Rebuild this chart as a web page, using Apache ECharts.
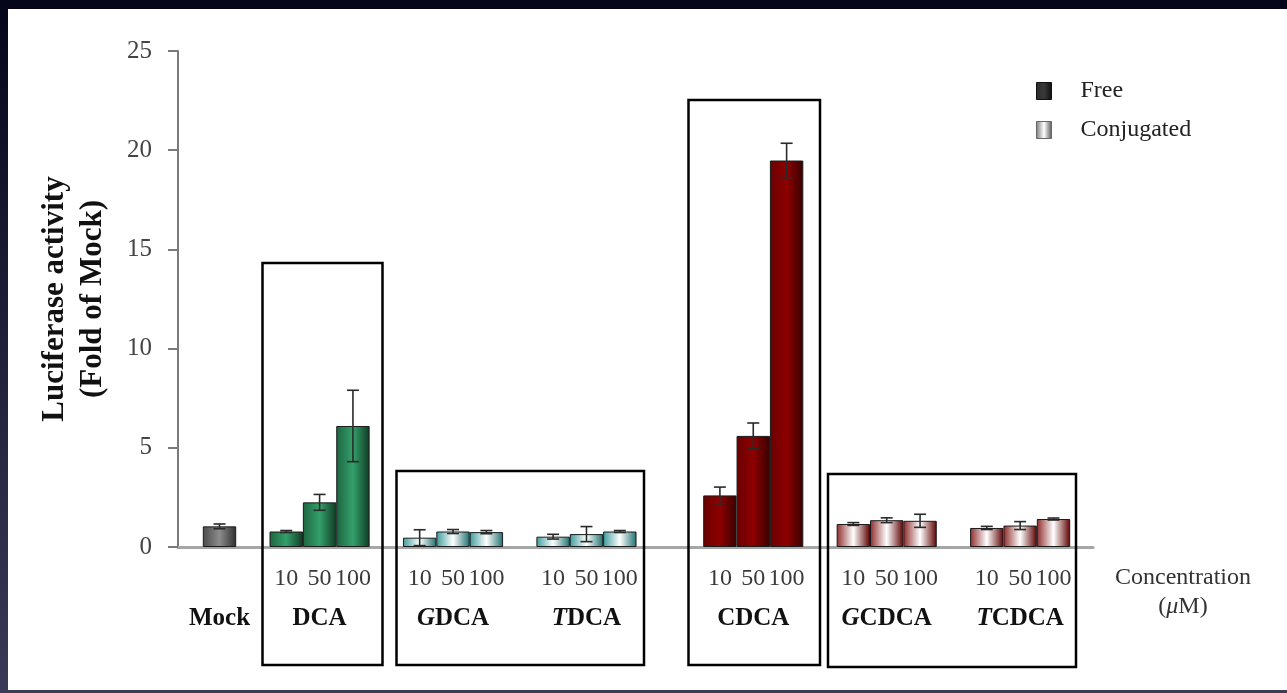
<!DOCTYPE html>
<html>
<head>
<meta charset="utf-8">
<script src="https://cdn.jsdelivr.net/npm/echarts@6/dist/echarts.min.js"></script>
<style>
html,body{margin:0;padding:0;background:#fff;}
#chart{width:1287px;height:693px;}
</style>
</head>
<body>
<div id="chart"></div>
<script>
// ---------- DATA ----------
// slot layout of the category band (blank = gap between groups)
const slots = ['Mock', '', 'DCA|10', 'DCA|50', 'DCA|100', '', 'GDCA|10', 'GDCA|50', 'GDCA|100', '',
  'TDCA|10', 'TDCA|50', 'TDCA|100', '', '', 'CDCA|10', 'CDCA|50', 'CDCA|100', '',
  'GCDCA|10', 'GCDCA|50', 'GCDCA|100', '', 'TCDCA|10', 'TCDCA|50', 'TCDCA|100'];
const groups = ['Mock', 'DCA', 'GDCA', 'TDCA', 'CDCA', 'GCDCA', 'TCDCA'];
const groupPrefix = ['', '', 'G', 'T', '', 'G', 'T'];
const groupBase = ['Mock', 'DCA', 'DCA', 'DCA', 'CDCA', 'CDCA', 'CDCA'];
const groupType = ['Free', 'Free', 'Conjugated', 'Conjugated', 'Free', 'Conjugated', 'Conjugated'];
const concentrations = ['10', '50', '100'];
const yTicks = [0, 5, 10, 15, 20, 25];

const mockValue = [1.04];
const mockError = [0.12];
const dcaValues = [0.78, 2.25, 6.1];
const dcaErrors = [0.05, 0.4, 1.8];
const gdcaValues = [0.47, 0.78, 0.75];
const gdcaErrors = [0.4, 0.1, 0.08];
const tdcaValues = [0.52, 0.65, 0.78];
const tdcaErrors = [0.12, 0.38, 0.05];
const cdcaValues = [2.6, 5.6, 19.48];
const cdcaErrors = [0.42, 0.65, 0.87];
const gcdcaValues = [1.16, 1.35, 1.32];
const gcdcaErrors = [0.07, 0.12, 0.33];
const tcdcaValues = [0.96, 1.08, 1.41];
const tcdcaErrors = [0.08, 0.2, 0.05];

const valuesByGroup = [mockValue, dcaValues, gdcaValues, tdcaValues, cdcaValues, gcdcaValues, tcdcaValues];
const errorsByGroup = [mockError, dcaErrors, gdcaErrors, tdcaErrors, cdcaErrors, gcdcaErrors, tcdcaErrors];

// ---------- STYLES ----------
function hGrad(a, b, c) {
  return {type: 'linear', x: 0, y: 0, x2: 1, y2: 0,
    colorStops: [{offset: 0, color: a}, {offset: 0.5, color: b}, {offset: 1, color: c}]};
}
const groupFill = [
  hGrad('#4a4a4a', '#8c8c8c', '#2e2e2e'),
  hGrad('#1d6440', '#33a06a', '#103a25'),
  hGrad('#3c9c9c', '#ffffff', '#1f7070'),
  hGrad('#3c9c9c', '#ffffff', '#1f7070'),
  hGrad('#6a0000', '#8e0000', '#380000'),
  hGrad('#8e2a2a', '#ffffff', '#5e0000'),
  hGrad('#8e2a2a', '#ffffff', '#5e0000')
];
const SERIF = "'Liberation Serif','DejaVu Serif',serif";

// ---------- BUILD ----------
const freeData = [], conjData = [], errData = [];
groups.forEach((g, gi) => {
  const vals = valuesByGroup[gi];
  vals.forEach((v, ci) => {
    const key = g === 'Mock' ? 'Mock' : g + '|' + concentrations[ci];
    const slot = slots.indexOf(key);
    const isMid = g === 'Mock' || ci === 1;
    const conc = g === 'Mock' ? ' ' : concentrations[ci];
    let second = '';
    if (isMid) {
      second = (groupPrefix[gi] ? '{gi|' + groupPrefix[gi] + '}' : '') + '{g|' + groupBase[gi] + '}';
    }
    const item = {
      value: [slot, v],
      itemStyle: {color: groupFill[gi]},
      label: {formatter: '{n|' + conc + '}' + (second ? '\n' + second : '')}
    };
    (groupType[gi] === 'Free' ? freeData : conjData).push(item);
    const e = errorsByGroup[gi][ci];
    errData.push([slot, v - e, v + e]);
  });
});

const barLabel = {
  show: true, position: 'bottom', distance: 12,
  rich: {
    n: {fontFamily: SERIF, fontSize: 24, color: '#3a3a3a', lineHeight: 40},
    g: {fontFamily: SERIF, fontSize: 25, fontWeight: 'bold', color: '#111', lineHeight: 40},
    gi: {fontFamily: SERIF, fontSize: 25, fontWeight: 'bold', fontStyle: 'italic', color: '#111', lineHeight: 40}
  }
};

const chart = echarts.init(document.getElementById('chart'), null, {renderer: 'canvas'});
const option = {
  backgroundColor: '#ffffff',
  animation: false,
  grid: {left: 178, right: 194, top: 51, bottom: 146, containLabel: false},
  legend: {
    orient: 'vertical', left: 1031, top: 74, itemWidth: 15, itemHeight: 17, itemGap: 15,
    textStyle: {fontFamily: SERIF, fontSize: 24, color: '#222', padding: [0, 0, 0, 24]},
    data: [
      {name: 'Free', icon: 'rect', itemStyle: {color: hGrad('#2a2a2a', '#3a3a3a', '#0e0e0e'), borderColor: '#111', borderWidth: 1}},
      {name: 'Conjugated', icon: 'rect', itemStyle: {color: hGrad('#777', '#fff', '#555'), borderColor: '#666', borderWidth: 1}}
    ]
  },
  xAxis: {
    type: 'value', min: -1.244, max: 26.184,
    axisLine: {show: true, onZero: false, lineStyle: {color: '#a6a6a6', width: 3}},
    axisTick: {show: false}, axisLabel: {show: false}, splitLine: {show: false}
  },
  yAxis: {
    type: 'value', min: yTicks[0], max: yTicks[yTicks.length - 1], interval: yTicks[1] - yTicks[0],
    name: 'Luciferase activity\n(Fold of Mock)', nameLocation: 'middle', nameGap: 66, nameRotate: 90,
    nameTextStyle: {fontFamily: SERIF, fontSize: 31, fontWeight: 'bold', color: '#111', lineHeight: 38},
    axisLine: {show: true, onZero: false, lineStyle: {color: '#7a7a7a', width: 2}},
    axisTick: {show: true, length: 10, lineStyle: {color: '#7a7a7a', width: 2}},
    axisLabel: {fontFamily: SERIF, fontSize: 25, color: '#444', margin: 26},
    splitLine: {show: false}
  },
  series: [
    {name: 'Free', type: 'bar', barWidth: 33.4, barGap: '-100%', data: freeData,
      itemStyle: {borderColor: '#1a1a1a', borderWidth: 1}, label: barLabel, z: 2},
    {name: 'Conjugated', type: 'bar', barWidth: 33.4, barGap: '-100%', data: conjData,
      itemStyle: {borderColor: '#1a1a1a', borderWidth: 1}, label: barLabel, z: 2},
    {name: 'error', type: 'custom', data: errData, z: 5, silent: true,
      renderItem: function (params, api) {
        const x = api.value(0);
        const top = api.coord([x, api.value(2)]);
        const bot = api.coord([x, api.value(1)]);
        const hw = 6;
        const st = {stroke: '#2a2a2a', lineWidth: 1.6};
        return {type: 'group', children: [
          {type: 'line', shape: {x1: top[0], y1: top[1], x2: bot[0], y2: bot[1]}, style: st},
          {type: 'line', shape: {x1: top[0] - hw, y1: top[1], x2: top[0] + hw, y2: top[1]}, style: st},
          {type: 'line', shape: {x1: bot[0] - hw, y1: bot[1], x2: bot[0] + hw, y2: bot[1]}, style: st}
        ]};
      }
    }
  ],
  graphic: [
    // dark frame of the original slide
    {type: 'rect', left: 0, top: 0, shape: {width: 1287, height: 9}, style: {fill: '#06061a'}, z: 100},
    {type: 'rect', left: 0, top: 0, shape: {width: 8, height: 693},
      style: {fill: {type: 'linear', x: 0, y: 0, x2: 0, y2: 1, colorStops: [{offset: 0, color: '#06061a'}, {offset: 1, color: '#3a3a58'}]}}, z: 100},
    {type: 'rect', left: 0, top: 690, shape: {width: 1287, height: 3}, style: {fill: '#3c3c58'}, z: 100},
    // group boxes
    {type: 'rect', shape: {x: 262.5, y: 263, width: 120, height: 402}, style: {fill: 'none', stroke: '#000', lineWidth: 2.5}, z: 50},
    {type: 'rect', shape: {x: 396.5, y: 471, width: 247.5, height: 194}, style: {fill: 'none', stroke: '#000', lineWidth: 2.5}, z: 50},
    {type: 'rect', shape: {x: 688.5, y: 100, width: 131.5, height: 565}, style: {fill: 'none', stroke: '#000', lineWidth: 2.5}, z: 50},
    {type: 'rect', shape: {x: 828, y: 474, width: 248, height: 193}, style: {fill: 'none', stroke: '#000', lineWidth: 2.5}, z: 50},
    // x axis caption
    {type: 'text', x: 1183, y: 592, z: 50,
      style: {text: '{a|Concentration}\n{a|(}{i|μ}{a|M)}', align: 'center', verticalAlign: 'middle',
        rich: {a: {fontFamily: SERIF, fontSize: 24, fill: '#333', lineHeight: 29},
               i: {fontFamily: SERIF, fontSize: 24, fontStyle: 'italic', fill: '#333', lineHeight: 29}}}}
  ]
};
chart.setOption(option);
</script>
</body>
</html>
